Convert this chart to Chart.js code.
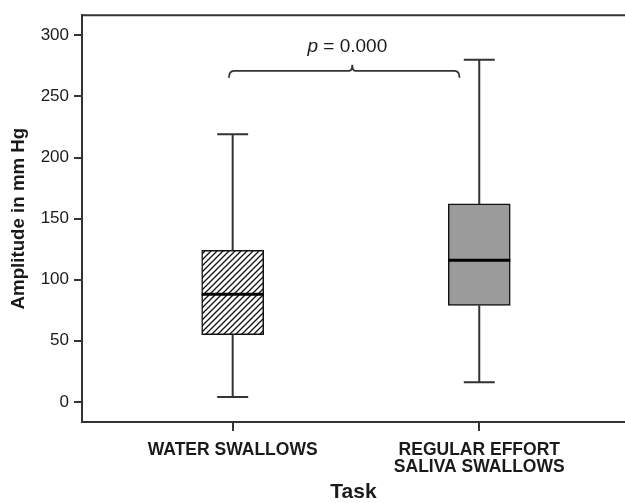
<!DOCTYPE html>
<html>
<head>
<meta charset="utf-8">
<script src="https://cdn.jsdelivr.net/npm/chart.js@4.4.1/dist/chart.umd.min.js"></script>
<style>
  html, body { margin: 0; padding: 0; background: #fff; }
  #wrap { width: 625px; height: 503px; }
</style>
</head>
<body>
<div id="wrap"><canvas id="boxplot"></canvas></div>
<script>
// values, mm Hg
const tasks = ['WATER SWALLOWS', ['REGULAR EFFORT', 'SALIVA SWALLOWS']]
const task_pos = [1, 2]
const whisker_low = [4, 16]
const q1 = [55, 79]
const median = [88, 116]
const q3 = [124, 162]
const whisker_high = [219, 280]
const y_ticks = [0, 50, 100, 150, 200, 250, 300]

// significance bracket
const p_italic = 'p'
const p_rest = ' = 0.000'
const bracket_from = 0.985
const bracket_to = 1.92
const bracket_tip = 1.485
const bracket_level = 271
const p_level = 291

const ink = '#333'
const font_family = "'Liberation Sans', Arial, sans-serif"

function hatch_pattern() {
    const c = document.createElement('canvas')
    c.width = 6
    c.height = 6
    const g = c.getContext('2d')
    g.fillStyle = '#fff'
    g.fillRect(0, 0, 6, 6)
    g.strokeStyle = '#111'
    g.lineWidth = 1.3
    g.beginPath()
    g.moveTo(-1, 7); g.lineTo(7, -1)
    g.moveTo(-4, 4); g.lineTo(4, -4)
    g.moveTo(2, 10); g.lineTo(10, 2)
    g.stroke()
    return g.createPattern(c, 'repeat')
}

const box_extras = {
    id: 'box_extras',
    afterDatasetsDraw(chart) {
        const ctx = chart.ctx
        const x = chart.scales.x
        const y = chart.scales.y
        const area = chart.chartArea
        const bars = chart.getDatasetMeta(0).data
        ctx.save()
        ctx.lineCap = 'butt'

        // top frame line
        ctx.strokeStyle = ink
        ctx.lineWidth = 2
        ctx.beginPath()
        ctx.moveTo(area.left, area.top)
        ctx.lineTo(area.right, area.top)
        ctx.stroke()

        for (let i = 0; i < task_pos.length; i++) {
            const cx = x.getPixelForValue(task_pos[i])
            const half = bars[i].width / 2
            const cap = half / 2
            ctx.strokeStyle = ink
            ctx.lineWidth = 2
            ctx.beginPath()
            ctx.moveTo(cx, y.getPixelForValue(q3[i]))
            ctx.lineTo(cx, y.getPixelForValue(whisker_high[i]))
            ctx.moveTo(cx - cap, y.getPixelForValue(whisker_high[i]))
            ctx.lineTo(cx + cap, y.getPixelForValue(whisker_high[i]))
            ctx.moveTo(cx, y.getPixelForValue(q1[i]))
            ctx.lineTo(cx, y.getPixelForValue(whisker_low[i]))
            ctx.moveTo(cx - cap, y.getPixelForValue(whisker_low[i]))
            ctx.lineTo(cx + cap, y.getPixelForValue(whisker_low[i]))
            ctx.stroke()

            ctx.strokeStyle = '#000'
            ctx.lineWidth = 3
            ctx.beginPath()
            ctx.moveTo(cx - half, y.getPixelForValue(median[i]))
            ctx.lineTo(cx + half, y.getPixelForValue(median[i]))
            ctx.stroke()
        }

        // bracket
        const bx0 = x.getPixelForValue(bracket_from)
        const bx1 = x.getPixelForValue(bracket_to)
        const tip = x.getPixelForValue(bracket_tip)
        const by = y.getPixelForValue(bracket_level)
        ctx.strokeStyle = ink
        ctx.lineWidth = 1.8
        ctx.beginPath()
        ctx.moveTo(bx0, by + 7)
        ctx.quadraticCurveTo(bx0, by, bx0 + 5, by)
        ctx.lineTo(tip - 3, by)
        ctx.quadraticCurveTo(tip, by, tip, by - 6)
        ctx.quadraticCurveTo(tip, by, tip + 3, by)
        ctx.lineTo(bx1 - 5, by)
        ctx.quadraticCurveTo(bx1, by, bx1, by + 7)
        ctx.stroke()

        // p value text
        const px = x.getPixelForValue(bracket_tip - 0.02)
        const py = y.getPixelForValue(p_level)
        ctx.fillStyle = '#1a1a1a'
        ctx.textBaseline = 'middle'
        ctx.font = 'italic 19px ' + font_family
        const w1 = ctx.measureText(p_italic).width
        ctx.font = '19px ' + font_family
        const w2 = ctx.measureText(p_rest).width
        const start = px - (w1 + w2) / 2
        ctx.font = 'italic 19px ' + font_family
        ctx.textAlign = 'left'
        ctx.fillText(p_italic, start, py)
        ctx.font = '19px ' + font_family
        ctx.fillText(p_rest, start + w1, py)
        ctx.restore()
    }
}

function draw_boxplot() {
    const ctx = document.getElementById('boxplot').getContext('2d')
    const boxes = task_pos.map((p, i) => ({x: p, y: [q1[i], q3[i]]}))
    const myChart = new Chart(ctx, {
        type: 'bar',
        data: {
            datasets: [{
                data: boxes,
                backgroundColor: [hatch_pattern(), '#9b9b9b'],
                borderColor: '#111',
                borderWidth: 1.5,
                borderSkipped: false,
                barThickness: 62
            }]
        },
        options: {
            responsive: true,
            maintainAspectRatio: false,
            animation: false,
            layout: { padding: { top: 13, right: 0, left: 0, bottom: 0 } },
            plugins: {
                legend: { display: false },
                tooltip: { enabled: false }
            },
            scales: {
                x: {
                    type: 'linear',
                    min: 0.389,
                    max: 2.591,
                    offset: false,
                    afterBuildTicks: scale => { scale.ticks = task_pos.map(v => ({value: v})) },
                    afterFit: scale => { scale.height = 81 },
                    ticks: {
                        callback: v => tasks[task_pos.indexOf(v)],
                        color: '#1a1a1a',
                        font: { family: font_family, size: 17.5, weight: 'bold', lineHeight: 0.97 },
                        padding: 11,
                        maxRotation: 0,
                        autoSkip: false
                    },
                    grid: {
                        offset: false,
                        drawOnChartArea: false,
                        drawTicks: true,
                        tickLength: 9,
                        color: ink,
                        lineWidth: 2
                    },
                    border: { display: true, color: ink, width: 2 },
                    title: {
                        display: true,
                        text: 'Task',
                        color: '#1a1a1a',
                        font: { family: font_family, size: 21, weight: 'bold' },
                        padding: { top: 0, bottom: -2 }
                    }
                },
                y: {
                    min: -16.5,
                    max: 316.5,
                    afterBuildTicks: scale => { scale.ticks = y_ticks.map(v => ({value: v})) },
                    afterFit: scale => { scale.width = 82 },
                    ticks: {
                        color: '#1a1a1a',
                        font: { family: font_family, size: 17 },
                        padding: 5
                    },
                    grid: {
                        drawOnChartArea: false,
                        drawTicks: true,
                        tickLength: 8,
                        color: ink,
                        lineWidth: 2
                    },
                    border: { display: true, color: ink, width: 2 },
                    title: {
                        display: true,
                        text: 'Amplitude in mm Hg',
                        color: '#1a1a1a',
                        font: { family: font_family, size: 18.7, weight: 'bold' },
                        padding: { top: 8, bottom: 0 }
                    }
                }
            }
        },
        plugins: [box_extras]
    });
}

draw_boxplot()
</script>
</body>
</html>
